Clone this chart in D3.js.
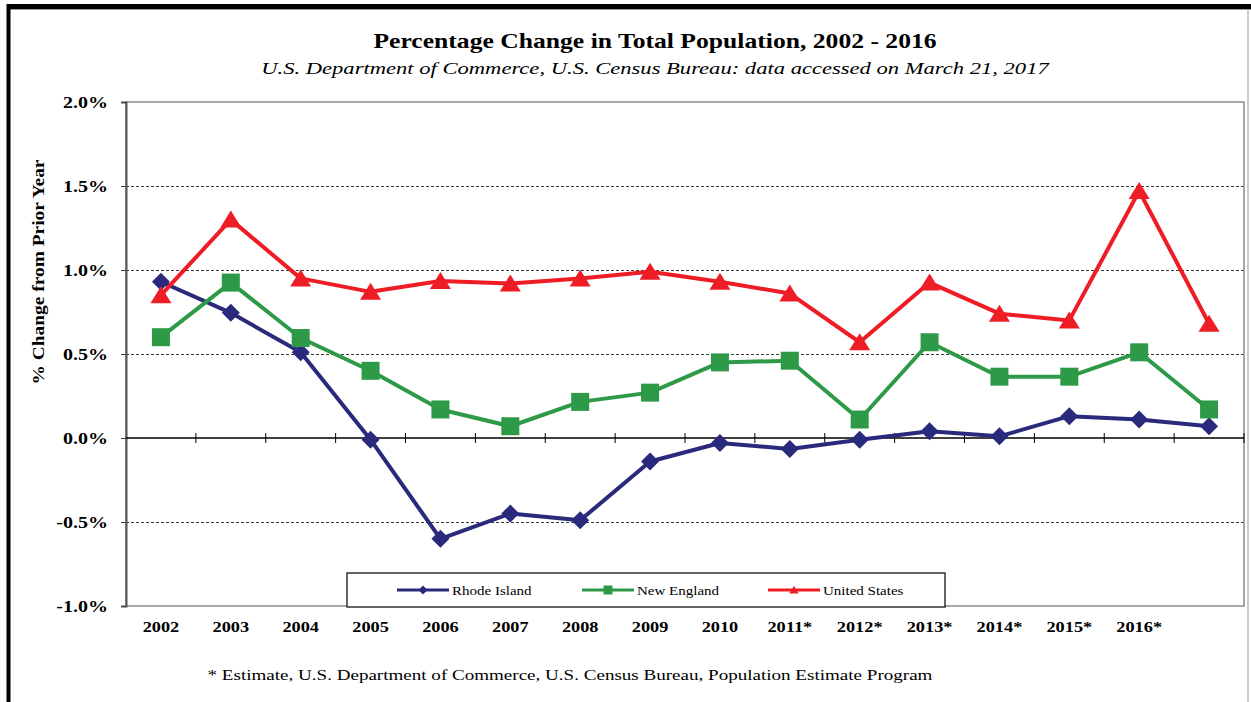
<html>
<head>
<style>
  body { margin: 0; background: #fff; }
  text { font-family: "Liberation Serif", "Times New Roman", serif; fill: #000; }
</style>
</head>
<body>
<script src="https://d3js.org/d3.v7.min.js"></script>
<script>
// data (percent change from prior year)
var years = ["2002","2003","2004","2005","2006","2007","2008","2009","2010",
             "2011*","2012*","2013*","2014*","2015*","2016*",""];
var rhodeIsland = [0.93,0.745,0.51,-0.01,-0.60,-0.45,-0.49,-0.14,-0.03,-0.065,-0.01,0.04,0.01,0.13,0.11,0.07];
var newEngland  = [0.60,0.925,0.595,0.40,0.17,0.07,0.215,0.27,0.45,0.46,0.11,0.57,0.365,0.365,0.51,0.17];
var unitedStates = [0.85,1.30,0.95,0.87,0.935,0.92,0.95,0.99,0.93,0.86,0.57,0.925,0.74,0.70,1.47,0.68];
var yTicks = [-1,-0.5,0,0.5,1,1.5,2];
var gridValues = [-0.5,0.5,1,1.5];

var seriesNames = ["Rhode Island","New England","United States"];
var seriesColors = ["#2a2a7c","#2e9a48","#ee1c25"];
var seriesShapes = ["diamond","square","triangle"];

var width = 1251, height = 702;
var plotLeft = 126, plotRight = 1244, plotTop = 102, plotBottom = 606;

var svg = d3.select("body").append("svg")
    .attr("width", width).attr("height", height);

// stretch text sideways, the source picture is wider than normal type
function stretch(sel, k) {
  sel.each(function() {
    var w = this.getComputedTextLength();
    d3.select(this).attr("textLength", w * k).attr("lengthAdjust", "spacingAndGlyphs");
  });
}

// page frame
svg.append("line").attr("x1", 7).attr("x2", 1251).attr("y1", 6.5).attr("y2", 6.5)
    .attr("stroke", "#000").attr("stroke-width", 5);
svg.append("line").attr("x1", 7).attr("x2", 1251).attr("y1", 9.5).attr("y2", 9.5)
    .attr("stroke", "#999").attr("stroke-width", 1);
svg.append("line").attr("x1", 8.5).attr("x2", 8.5).attr("y1", 4).attr("y2", 702)
    .attr("stroke", "#000").attr("stroke-width", 4);
svg.append("line").attr("x1", 1248).attr("x2", 1248).attr("y1", 9).attr("y2", 702)
    .attr("stroke", "#aaa").attr("stroke-width", 1.2);

var x = d3.scaleBand().domain(d3.range(years.length)).range([plotLeft, plotRight]);
var xb = d3.scaleLinear().domain([0, years.length]).range([plotLeft, plotRight]);
var y = d3.scaleLinear().domain([-1, 2]).range([plotBottom, plotTop]);
var cx = function(i) { return x(i) + x.bandwidth() / 2; };

// gridlines
svg.append("g").selectAll("line").data(gridValues).join("line")
    .attr("x1", plotLeft).attr("x2", plotRight)
    .attr("y1", d => y(d) + 0.5).attr("y2", d => y(d) + 0.5)
    .attr("stroke", "#222").attr("stroke-width", 0.9).attr("stroke-dasharray", "3,2");

// plot frame
svg.append("rect").attr("x", plotLeft).attr("y", plotTop)
    .attr("width", plotRight - plotLeft).attr("height", plotBottom - plotTop)
    .attr("fill", "none").attr("stroke", "#8a8a8a").attr("stroke-width", 1.5);

// y axis
var yAxis = svg.append("g").attr("transform", "translate(" + plotLeft + ",0)")
    .call(d3.axisLeft(y).tickValues(yTicks).tickSize(5).tickPadding(13)
      .tickFormat(d => d.toFixed(1) + "%"));
yAxis.select(".domain").attr("stroke", "#555").attr("stroke-width", 2);
yAxis.selectAll(".tick line").attr("stroke", "#444");
yAxis.selectAll("text")
    .attr("font-family", "Liberation Serif").attr("font-size", 16).attr("font-weight", "bold")
    .attr("dy", "0.36em").call(stretch, 1.25);

// zero line with category ticks
svg.append("line").attr("x1", plotLeft).attr("x2", plotRight)
    .attr("y1", y(0)).attr("y2", y(0)).attr("stroke", "#000").attr("stroke-width", 1.5);
svg.append("g").selectAll("line").data(d3.range(1, years.length + 1)).join("line")
    .attr("x1", d => xb(d)).attr("x2", d => xb(d))
    .attr("y1", y(0) - 5).attr("y2", y(0) + 5)
    .attr("stroke", "#000").attr("stroke-width", 1);

// x labels
var xAxis = svg.append("g").attr("transform", "translate(0," + plotBottom + ")")
    .call(d3.axisBottom(x).tickSize(0).tickPadding(15).tickFormat(i => years[i]));
xAxis.select(".domain").remove();
xAxis.selectAll("text")
    .attr("font-family", "Liberation Serif").attr("font-size", 15).attr("font-weight", "bold")
    .attr("dy", "0.71em").call(stretch, 1.22);

// markers
function marker(shape, s) {
  if (shape === "diamond") return "M0," + (-s) + "L" + s + ",0L0," + s + "L" + (-s) + ",0Z";
  if (shape === "square") return "M" + (-s) + "," + (-s) + "h" + (2 * s) + "v" + (2 * s) + "h" + (-2 * s) + "Z";
  return "M0," + (-s * 0.9) + "L" + (s * 1.05) + "," + (s * 0.8) + "L" + (-s * 1.05) + "," + (s * 0.8) + "Z";
}

var allSeries = [rhodeIsland, newEngland, unitedStates];
var line = d3.line().x((d, i) => cx(i)).y(d => y(d));
var markerSize = [9, 9, 10];

allSeries.forEach(function(vals, k) {
  var g = svg.append("g");
  g.append("path").datum(vals).attr("d", line)
      .attr("fill", "none").attr("stroke", seriesColors[k]).attr("stroke-width", 4)
      .attr("stroke-linejoin", "round");
  g.selectAll("path.m").data(vals).join("path").attr("class", "m")
      .attr("transform", (d, i) => "translate(" + cx(i) + "," + y(d) + ")")
      .attr("d", marker(seriesShapes[k], markerSize[k]))
      .attr("fill", seriesColors[k]);
});

// legend
var legend = svg.append("g");
legend.append("rect").attr("x", 347).attr("y", 573).attr("width", 598).attr("height", 34)
    .attr("fill", "#fff").attr("stroke", "#000").attr("stroke-width", 1.2);
var legendX = [397, 582, 768];
seriesNames.forEach(function(name, k) {
  var lg = legend.append("g").attr("transform", "translate(" + legendX[k] + ",590)");
  lg.append("line").attr("x1", 0).attr("x2", 52).attr("stroke", seriesColors[k]).attr("stroke-width", 3);
  lg.append("path").attr("transform", "translate(26,0)")
      .attr("d", marker(seriesShapes[k], 4.5)).attr("fill", seriesColors[k]);
  lg.append("text").attr("x", 55).attr("y", 4.5).attr("font-size", 12.5).text(name)
      .call(stretch, 1.2);
});

// titles
svg.append("text").attr("x", 655).attr("y", 48).attr("text-anchor", "middle")
    .attr("font-size", 21).attr("font-weight", "bold")
    .text("Percentage Change in Total Population, 2002 - 2016").call(stretch, 1.22);
svg.append("text").attr("x", 655).attr("y", 74).attr("text-anchor", "middle")
    .attr("font-size", 17.5).attr("font-style", "italic")
    .text("U.S. Department of Commerce, U.S. Census Bureau: data accessed on March 21, 2017")
    .call(stretch, 1.29);
svg.append("text").attr("transform", "translate(44,272) rotate(-90)").attr("text-anchor", "middle")
    .attr("font-size", 17).attr("font-weight", "bold").text("% Change from Prior Year")
    .attr("textLength", 225).attr("lengthAdjust", "spacingAndGlyphs");
svg.append("text").attr("x", 570).attr("y", 680).attr("text-anchor", "middle")
    .attr("font-size", 15)
    .text("* Estimate, U.S. Department of Commerce, U.S. Census Bureau, Population Estimate Program")
    .call(stretch, 1.27);
</script>
</body>
</html>
